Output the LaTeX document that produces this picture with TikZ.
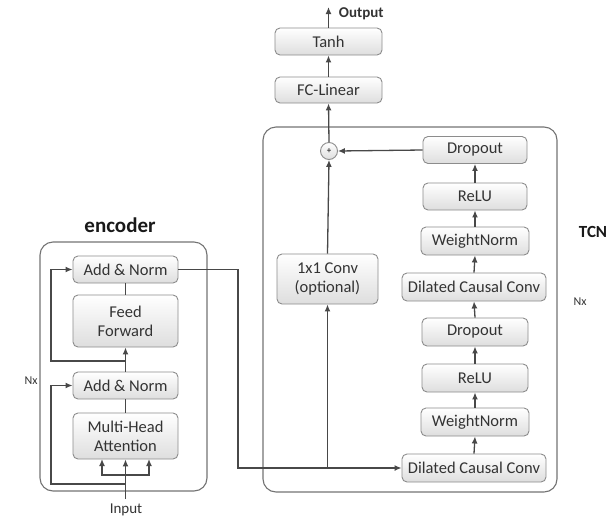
\documentclass[tikz,border=0pt]{standalone}
\usepackage{fontspec}
\setmainfont{Carlito}
\usetikzlibrary{arrows.meta}

\definecolor{linegray}{HTML}{484848}
\definecolor{boxgray}{HTML}{8C8C8C}
\definecolor{textgray}{HTML}{333333}

\begin{document}
\begin{tikzpicture}[
        x=1pt, y=-1pt,
        >={Latex[length=7pt,width=6pt]},
        line width=1.2pt,
        block/.style={draw=boxgray, line width=0.9pt, rounded corners=5pt,
          top color=white, bottom color=black!13, text=textgray,
          font=\fontsize{16.5}{18}\selectfont, align=center,
          inner sep=0pt, minimum height=27},
        frame/.style={draw=black!55, line width=1.1pt, rounded corners=13pt},
        wire/.style={draw=linegray, line width=1.3pt},
        title/.style={font=\fontsize{21}{24}\selectfont\bfseries, text=black!90},
        small/.style={font=\fontsize{12}{14}\selectfont, text=textgray},
      ]
      \useasboundingbox (0,0) rectangle (607,520);

      % outer frames
      \draw[frame] (40,242) rectangle (207,491);
      \draw[frame] (263,127) rectangle (557,492);

      % encoder
      \node[block, minimum width=105] (addtop) at (125.5,269.5) {Add \& Norm};
      \node[block, minimum width=105, minimum height=52] (ff) at (125.5,321) {Feed\\[1pt]Forward};
      \node[block, minimum width=105] (addbot) at (125.5,385.5) {Add \& Norm};
      \node[block, minimum width=105, minimum height=46] (mha) at (125.5,436) {Multi-Head\\[1pt]Attention};

      % TCN
      \node[block, minimum width=107] (tanh) at (328.5,41.5) {Tanh};
      \node[block, minimum width=107, minimum height=26] (fc) at (328.5,90) {FC-Linear};
      \node[circle, draw=boxgray, line width=0.9pt, top color=white, bottom color=black!13,
            minimum size=17, inner sep=0pt, font=\fontsize{9}{10}\selectfont] (plus) at (329,151) {+};
      \node[block, minimum width=104] (drop1) at (475,150) {Dropout};
      \node[block, minimum width=104] (relu1) at (475,196.5) {ReLU};
      \node[block, minimum width=108, minimum height=28] (wn1) at (475,241) {WeightNorm};
      \node[block, minimum width=144, minimum height=28] (dcc1) at (474,287) {Dilated Causal Conv};
      \node[block, minimum width=106, minimum height=28] (drop2) at (475,332) {Dropout};
      \node[block, minimum width=106, minimum height=28] (relu2) at (475,378) {ReLU};
      \node[block, minimum width=108, minimum height=28] (wn2) at (475,422) {WeightNorm};
      \node[block, minimum width=144, minimum height=28] (dcc2) at (474,468) {Dilated Causal Conv};
      \node[block, minimum width=101, minimum height=50] (conv) at (327.5,279) {1x1 Conv\\[1pt](optional)};

      % labels
      \node[title] (enclabel) at (120,225) {encoder};
      \node[title, font=\fontsize{17}{20}\selectfont\bfseries, anchor=west] (tcnlabel) at (575,232) {TCN};
      \node[small] (nxleft) at (31,381) {Nx};
      \node[small] (nxright) at (580,302) {Nx};
      \node[font=\fontsize{15}{17}\selectfont, text=textgray] (input) at (126,510) {Input};
      \node[font=\fontsize{15}{17}\selectfont\bfseries, text=textgray, anchor=west] (output) at (335,14) {Output};

      \coordinate (in) at (125.5,499);
      \coordinate (split) at (125.5,475);
      \coordinate (res1) at (125.5,484);
      \coordinate (res2) at (125.5,361);
      \coordinate (turn) at (238,269.5);
      \coordinate (branch) at (327.5,468);
      \coordinate (out) at (328.5,7);

      % encoder wiring
      \draw[wire,->] (in) -- (mha.south);
      \draw[wire,->] (split) -- (102,475) -- (102,459);
      \draw[wire,->] (split) -- (149,475) -- (149,459);
      \draw[wire,->] (res1) -- (51,484) |- (addbot.west);
      \draw[wire] (addbot.south) -- (mha.north);
      \draw[wire,->] (addbot.north) -- (ff.south);
      \draw[wire,->] (res2) -- (51,361) |- (addtop.west);
      \draw[wire] (ff.north) -- (addtop.south);

      % encoder to TCN
      \draw[wire,->] (addtop.east) -- (turn) |- (dcc2.west);
      \draw[wire,->] (branch) -- (conv.south);

      % TCN wiring
      \draw[wire,->] (dcc2.north) -- (wn2.south);
      \draw[wire,->] (wn2.north) -- (relu2.south);
      \draw[wire,->] (relu2.north) -- (drop2.south);
      \draw[wire,->] (drop2.north) -- (dcc1.south);
      \draw[wire,->] (dcc1.north) -- (wn1.south);
      \draw[wire,->] (wn1.north) -- (relu1.south);
      \draw[wire,->] (relu1.north) -- (drop1.south);
      \draw[wire,->] (drop1.west) -- (plus.east);
      \draw[wire,->] (conv.north) -- (plus.south);
      \draw[wire,->] (plus.north) -- (fc.south);
      \draw[wire,->] (fc.north) -- (tanh.south);
      \draw[wire,->] (tanh.north) -- (out);

    \end{tikzpicture}
\end{document}
